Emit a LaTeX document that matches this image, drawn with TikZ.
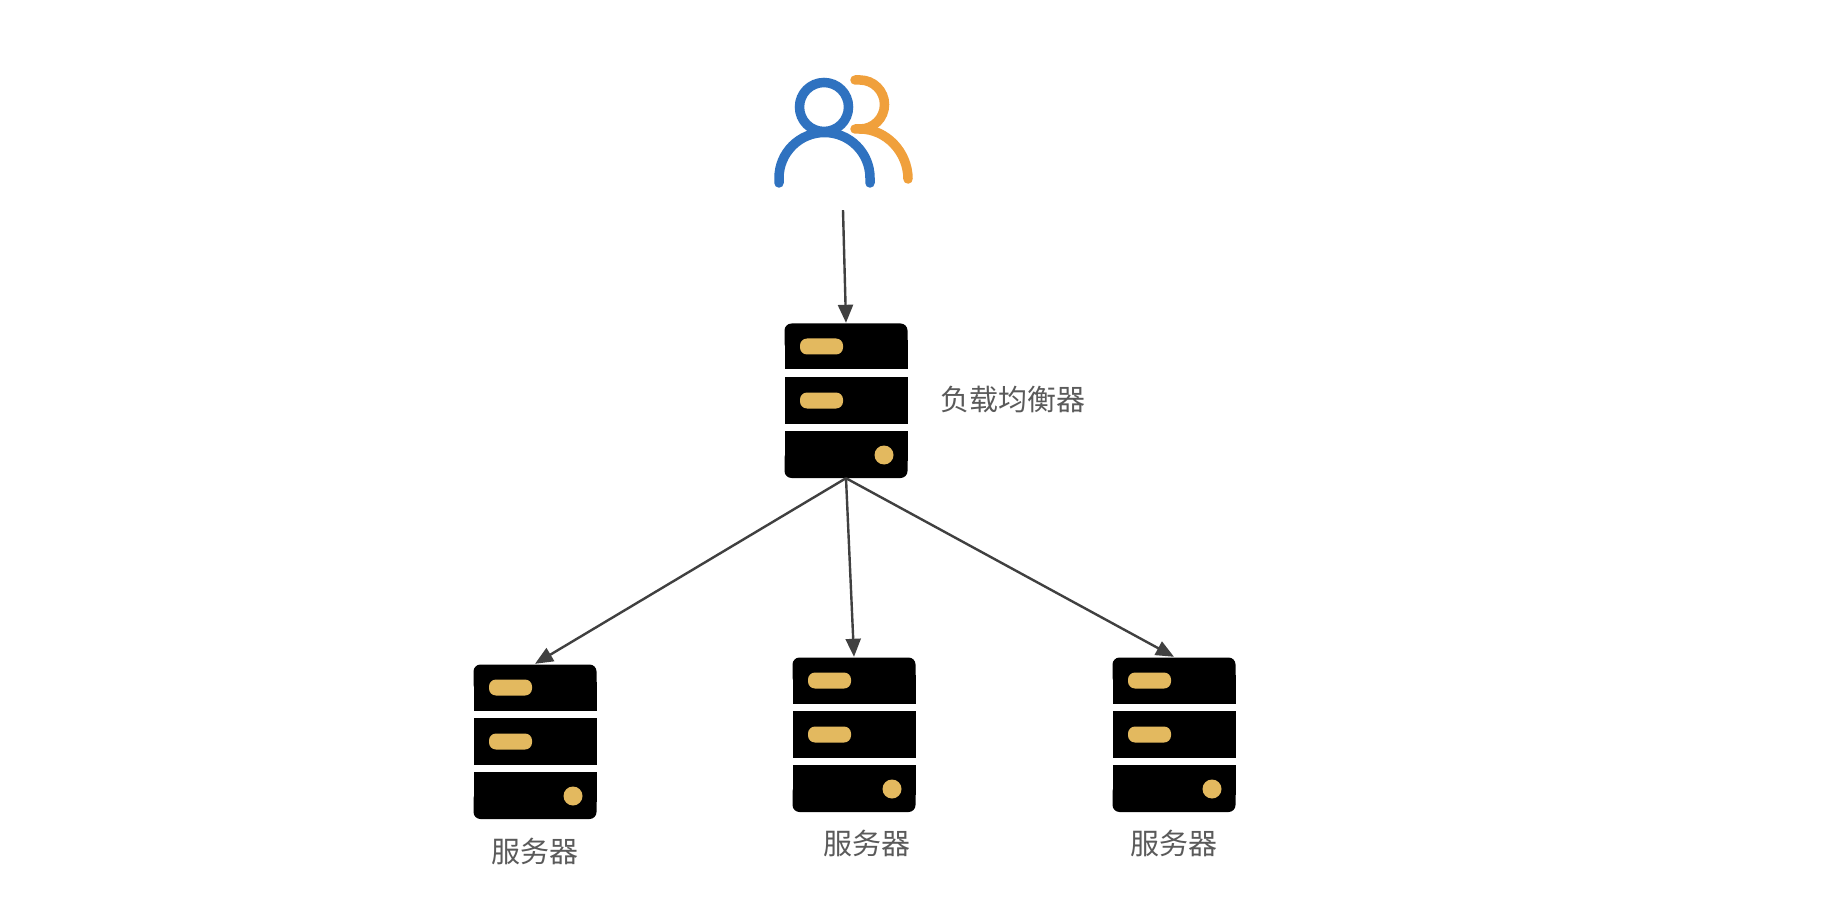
\documentclass[tikz,border=0pt]{standalone}
\usepackage{fontspec}
\setmainfont{Noto Sans CJK SC}
\usepackage{xcolor}
\usetikzlibrary{arrows.meta}
\definecolor{userblue}{HTML}{2F72C0}
\definecolor{userorange}{HTML}{F0A03C}
\definecolor{ledgold}{HTML}{E3B95F}
\definecolor{labelgray}{HTML}{5A5A5A}
\definecolor{linkgray}{HTML}{404040}
\tikzset{
  rackstack/.pic={
    \fill[black, rounded corners=7pt] (-61.5,-77) rectangle (61.5,-50);
    \fill[black] (-61.5,-60) rectangle (61.5,-31);
    \fill[black] (-61.5,-23.5) rectangle (61.5,23);
    \fill[black, rounded corners=7pt] (-61.5,50) rectangle (61.5,77.5);
    \fill[black] (-61.5,30.5) rectangle (61.5,60);
    \fill[ledgold, rounded corners=7pt] (-46,-62) rectangle (-3,-46);
    \fill[ledgold, rounded corners=7pt] (-46,-8) rectangle (-3,8);
    \fill[ledgold] (38,54.5) circle (9.5pt);
  },
  twousers/.pic={
    \draw[userblue, line width=9.5pt] (-19,-33) circle (24.5pt);
    \draw[userblue, line width=9.5pt, line cap=round] (-64,43) -- (-64,38) arc[start angle=180, end angle=0, radius=45.5pt] -- (27,43);
    \draw[userorange, line width=9.5pt, line cap=round] (12,-60) -- (17,-60) arc[start angle=90, end angle=-90, radius=24.5pt] -- (12,-11);
    \draw[userorange, line width=9.5pt, line cap=round] (17,-11) .. controls (43,-11) and (65,12) .. (65,39);
  }
}
\begin{document}
\begin{tikzpicture}[
  x=1pt, y=-1pt,
  rackbox/.style={minimum width=123pt, minimum height=155pt, inner sep=0pt},
  usersbox/.style={minimum width=140pt, minimum height=140pt, inner sep=0pt},
  rackname/.style={text=labelgray, font=\fontsize{29}{32}\selectfont, inner sep=0pt},
  link/.style={-{Triangle[length=18pt, width=15pt]}, linkgray, line width=2.4pt}
]
  \useasboundingbox[fill=white] (0,0) rectangle (1832,917);
  \node[usersbox] (users) at (843,140) {};
  \pic at (users) {twousers};
  \node[rackbox] (lb) at (846,400.5) {};
  \pic at (lb) {rackstack};
  \node[rackbox] (srv1) at (535,741.5) {};
  \pic at (srv1) {rackstack};
  \node[rackbox] (srv2) at (854,734.5) {};
  \pic at (srv2) {rackstack};
  \node[rackbox] (srv3) at (1174,734.5) {};
  \pic at (srv3) {rackstack};
  \node[rackname] (lbname) at (1013,399) {负载均衡器};
  \node[rackname] (srv1name) at (535,851) {服务器};
  \node[rackname] (srv2name) at (867,843) {服务器};
  \node[rackname] (srv3name) at (1174,843) {服务器};
  \draw[link] (users.south) -- (lb.north);
  \draw[link] (lb.south) -- (srv1.north);
  \draw[link] (lb.south) -- (srv2.north);
  \draw[link] (lb.south) -- (srv3.north);
\end{tikzpicture}
\end{document}
